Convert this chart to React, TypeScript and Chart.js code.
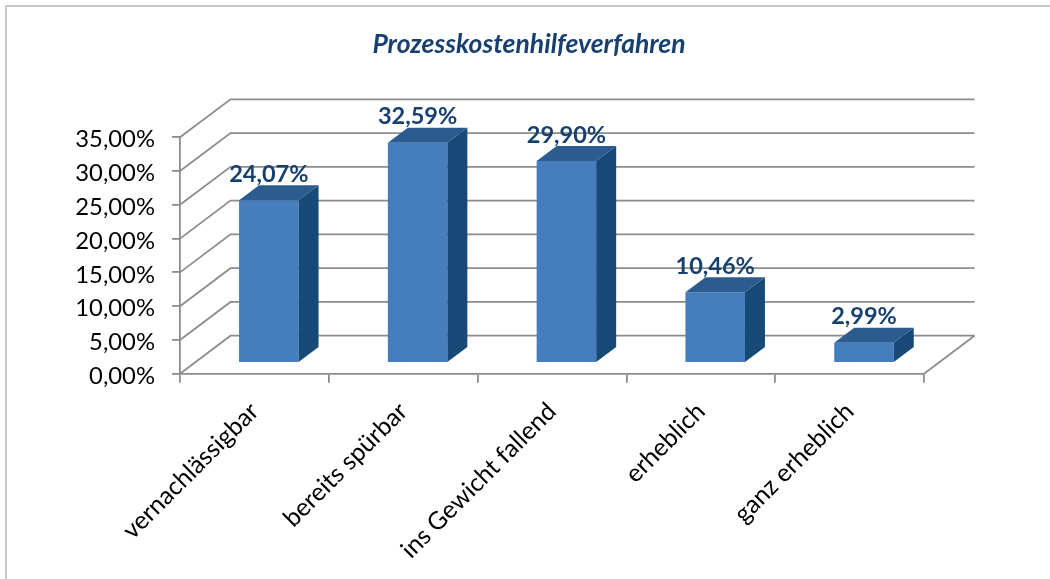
import React, { useEffect, useRef } from "react";
import { Chart, registerables } from "chart.js";

Chart.register(...registerables);

const categories = ["vernachlässigbar", "bereits spürbar", "ins Gewicht fallend", "erheblich", "ganz erheblich"];
const values = [24.07, 32.59, 29.9, 10.46, 2.99];
const titleText = "Prozesskostenhilfeverfahren";

const fmt = (v: number) => v.toFixed(2).replace(".", ",") + "%";

const WALL_DX = 50.5, WALL_DY = 38;
const BAR_OFF_X = 14.4, BAR_OFF_Y = 10.8;
const BAR_DX = 20, BAR_DY = 15;
const GRID = "#8c8c8c";
const FRONT = "#457dbd", TOP = "#2c5c8f", SIDE = "#174a76", LABEL = "#17406f";

const threeD = {
  id: "threeD",
  beforeDatasetsDraw(chart: any) {
    const { ctx, scales: { x, y } } = chart;
    const left = x.left, right = x.right;
    ctx.save();
    ctx.strokeStyle = GRID;
    ctx.lineWidth = 1.8;
    (y.ticks as any[]).forEach((t) => {
      const py = y.getPixelForValue(t.value);
      ctx.beginPath();
      ctx.moveTo(left, py);
      ctx.lineTo(left + WALL_DX, py - WALL_DY);
      ctx.lineTo(right + WALL_DX, py - WALL_DY);
      ctx.stroke();
    });
    const p0 = y.getPixelForValue(0);
    ctx.beginPath();
    ctx.moveTo(right, p0);
    ctx.lineTo(right + WALL_DX, p0 - WALL_DY);
    ctx.stroke();
    ctx.restore();
  },
  beforeDatasetDraw(chart: any) {
    chart.ctx.save();
    chart.ctx.translate(BAR_OFF_X, -BAR_OFF_Y);
  },
  afterDatasetDraw(chart: any, args: any) {
    const { ctx } = chart;
    ctx.restore();
    const meta = chart.getDatasetMeta(args.index);
    meta.data.forEach((bar: any, i: number) => {
      const { x, y, base, width } = bar.getProps(["x", "y", "base", "width"], true);
      const l = x - width / 2 + BAR_OFF_X, r = x + width / 2 + BAR_OFF_X;
      const t = y - BAR_OFF_Y, b = base - BAR_OFF_Y;
      ctx.fillStyle = TOP;
      ctx.beginPath();
      ctx.moveTo(l, t);
      ctx.lineTo(l + BAR_DX, t - BAR_DY);
      ctx.lineTo(r + BAR_DX, t - BAR_DY);
      ctx.lineTo(r, t);
      ctx.closePath();
      ctx.fill();
      ctx.fillStyle = SIDE;
      ctx.beginPath();
      ctx.moveTo(r, t);
      ctx.lineTo(r + BAR_DX, t - BAR_DY);
      ctx.lineTo(r + BAR_DX, b - BAR_DY);
      ctx.lineTo(r, b);
      ctx.closePath();
      ctx.fill();
      ctx.fillStyle = LABEL;
      ctx.font = "bold 23.5px Lato";
      ctx.textAlign = "center";
      ctx.textBaseline = "middle";
      ctx.fillText(fmt(values[i]), (l + r) / 2, t - 26);
    });
  },
};

export default function App() {
  const ref = useRef<HTMLCanvasElement>(null);
  useEffect(() => {
    document.body.style.margin = "0";
    const chart = new Chart(ref.current!, {
      type: "bar",
      data: {
        labels: categories,
        datasets: [{ data: values, backgroundColor: FRONT, borderWidth: 0, categoryPercentage: 1, barPercentage: 0.4 }],
      },
      plugins: [threeD],
      options: {
        animation: false,
        responsive: false,
        layout: { padding: { left: 8, right: 0, top: 0, bottom: 0 } },
        plugins: {
          legend: { display: false },
          tooltip: { enabled: false },
          title: {
            display: true,
            text: titleText,
            color: LABEL,
            font: { family: "Lato", size: 26.5, weight: "bold", style: "italic" },
            padding: { top: 29, bottom: 76.5 },
          },
        },
        scales: {
          x: {
            afterFit: (s: any) => { s.height = 205.3; },
            border: { color: GRID, width: 1.8 },
            grid: { drawOnChartArea: false, color: GRID, lineWidth: 1.8, tickLength: 9 },
            ticks: { color: "#000", font: { family: "Lato", size: 24.8 }, minRotation: 45, maxRotation: 45, padding: 14, autoSkip: false },
          },
          y: {
            min: 0,
            max: 35,
            afterFit: (s: any) => { s.width = 172; },
            border: { color: GRID, width: 1.8 },
            grid: { drawOnChartArea: false, color: GRID, lineWidth: 1.8, tickLength: 8 },
            ticks: { stepSize: 5, color: "#000", font: { family: "Lato", size: 23.8 }, padding: 17, labelOffset: 2.5, callback: (v: any) => fmt(Number(v)) },
          },
          spacer: {
            type: "linear",
            position: "right",
            display: true,
            afterFit: (s: any) => { s.width = 126; },
            border: { display: false },
            grid: { display: false },
            ticks: { display: false },
          },
        },
      } as any,
    });
    return () => chart.destroy();
  }, []);
  return (
    <div style={{ position: "absolute", left: 0, top: 0, width: 1050, height: 579, overflow: "hidden", background: "#fff" }}>
      <canvas ref={ref} width={1050} height={579} style={{ display: "block" }} />
      <div style={{ position: "absolute", left: 5, top: 5, width: 1045, height: 574, borderLeft: "2px solid #c8c8c8", borderTop: "2px solid #c8c8c8" }} />
    </div>
  );
}
